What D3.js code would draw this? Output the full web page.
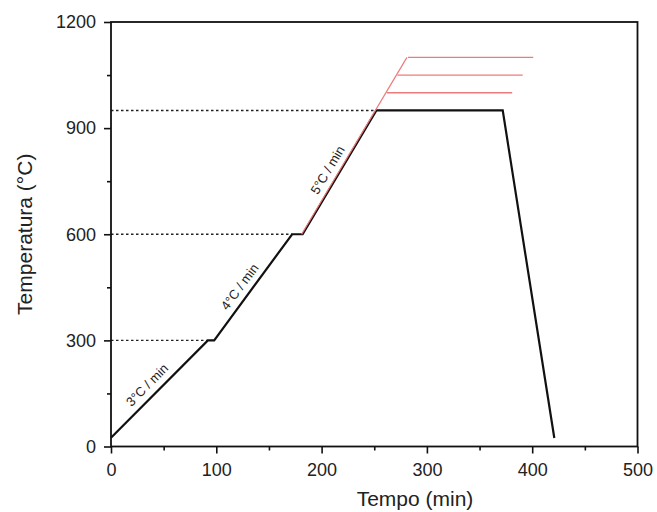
<!DOCTYPE html>
<html>
<head>
<meta charset="utf-8">
<script src="https://cdn.jsdelivr.net/npm/d3@7"></script>
<style>
  body { margin: 0; background: #fff; }
  svg { display: block; font-family: "Liberation Sans", Arial, sans-serif; }
</style>
</head>
<body>
<svg id="chart"></svg>
<script>
// heating profile (black line)
const profileTime = [0, 92, 98, 172, 182, 252, 372, 421];
const profileTemp = [25, 300, 300, 600, 600, 950, 950, 24];

// red ramp continuing at 5 C/min and the higher soaking plateaus
const rampTime = [182, 282];
const rampTemp = [600, 1100];
const plateauTemp = [1000, 1050, 1100];
const plateauStart = [262, 272, 282];
const plateauEnd = [381, 391, 401];

// dotted guides from the y axis to each kink
const guideTemp = [300, 600, 950];
const guideEnd = [92, 172, 252];

// rate labels, placed on the segment at (time, temp)
const rateLabels = ["3°C / min", "4°C / min", "5°C / min"];
const rateTime = [42, 131, 215];
const rateTemp = [151, 432, 765];

const xTicks = [0, 100, 200, 300, 400, 500];
const xMinor = [50, 150, 250, 350, 450];
const yTicks = [0, 300, 600, 900, 1200];
const yMinor = [150, 450, 750, 1050];

const width = 657, height = 512;
const margin = { top: 22, right: 19.5, bottom: 65.5, left: 111 };

const svg = d3.select("#chart").attr("width", width).attr("height", height);

const x = d3.scaleLinear().domain([0, 500]).range([margin.left, width - margin.right]);
const y = d3.scaleLinear().domain([0, 1200]).range([height - margin.bottom, margin.top]);

// axes (major + minor ticks, outward)
svg.append("g")
  .attr("transform", `translate(0,${y(0)})`)
  .call(d3.axisBottom(x).tickValues(xTicks).tickFormat(d3.format("d")).tickSize(7).tickPadding(10));
svg.append("g")
  .attr("transform", `translate(0,${y(0)})`)
  .call(d3.axisBottom(x).tickValues(xMinor).tickSize(4).tickFormat(""));
svg.append("g")
  .attr("transform", `translate(${x(0)},0)`)
  .call(d3.axisLeft(y).tickValues(yTicks).tickFormat(d3.format("d")).tickSize(7).tickPadding(8));
svg.append("g")
  .attr("transform", `translate(${x(0)},0)`)
  .call(d3.axisLeft(y).tickValues(yMinor).tickSize(4).tickFormat(""));

svg.selectAll(".domain").remove();
svg.selectAll(".tick line").attr("stroke", "#111").attr("stroke-width", 1.6);
svg.selectAll(".tick text").attr("font-size", 18).attr("fill", "#222")
  .attr("font-family", "Liberation Sans, Arial, sans-serif");

// dotted guides
svg.append("g").selectAll("line")
  .data(guideTemp)
  .join("line")
  .attr("x1", x(0))
  .attr("x2", (d, i) => x(guideEnd[i]))
  .attr("y1", d => y(d))
  .attr("y2", d => y(d))
  .attr("stroke", "#222")
  .attr("stroke-width", 1.4)
  .attr("stroke-dasharray", "2.5,2.5");

const line = d3.line().x(d => x(d[0])).y(d => y(d[1]));

// main profile
svg.append("path")
  .attr("d", line(d3.zip(profileTime, profileTemp)))
  .attr("fill", "none")
  .attr("stroke", "#111")
  .attr("stroke-width", 2.2)
  .attr("stroke-linejoin", "miter");

// red ramp and plateaus
svg.append("path")
  .attr("d", line(d3.zip(rampTime, rampTemp)))
  .attr("fill", "none")
  .attr("stroke", "#ee7b7b")
  .attr("stroke-width", 1.2)
  .attr("transform", "translate(-1,0)");

svg.append("g").selectAll("line")
  .data(plateauTemp)
  .join("line")
  .attr("x1", (d, i) => x(plateauStart[i]))
  .attr("x2", (d, i) => x(plateauEnd[i]))
  .attr("y1", d => y(d))
  .attr("y2", d => y(d))
  .attr("stroke", "#ee7b7b")
  .attr("stroke-width", 1.3);

// frame
svg.append("rect")
  .attr("x", x(0))
  .attr("y", y(1200))
  .attr("width", x(500) - x(0))
  .attr("height", y(0) - y(1200))
  .attr("fill", "none")
  .attr("stroke", "#111")
  .attr("stroke-width", 1.8);

// rate annotations, rotated along their segment
const slopes = [3, 4, 5];
svg.append("g").selectAll("text")
  .data(rateLabels)
  .join("text")
  .attr("transform", (d, i) => {
    const dx = x(1) - x(0);
    const dy = y(slopes[i]) - y(0);
    const ang = Math.atan2(dy, dx) * 180 / Math.PI;
    return `translate(${x(rateTime[i])},${y(rateTemp[i])}) rotate(${ang})`;
  })
  .attr("dy", -7)
  .attr("text-anchor", "middle")
  .attr("font-size", 13)
  .attr("fill", "#222")
  .text(d => d);

// axis titles
svg.append("text")
  .attr("x", 415)
  .attr("y", 506)
  .attr("text-anchor", "middle")
  .attr("font-size", 21)
  .attr("fill", "#222")
  .text("Tempo (min)");

svg.append("text")
  .attr("transform", `translate(32,${(y(0) + y(1200)) / 2}) rotate(-90)`)
  .attr("text-anchor", "middle")
  .attr("font-size", 21)
  .attr("fill", "#222")
  .text("Temperatura (°C)");
</script>
</body>
</html>
